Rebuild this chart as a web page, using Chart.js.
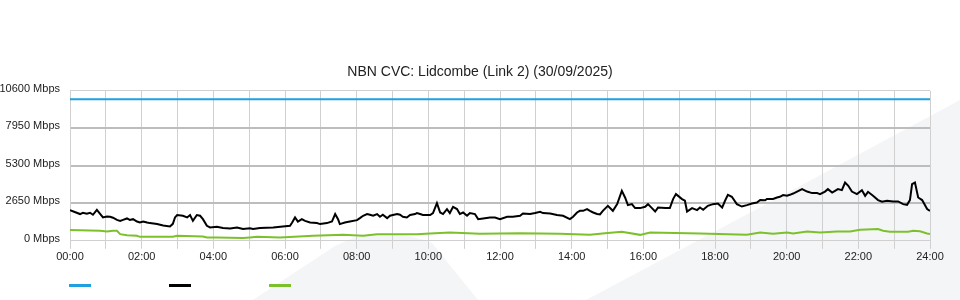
<!DOCTYPE html>
<html>
<head>
<meta charset="utf-8">
<script src="https://cdn.jsdelivr.net/npm/chart.js@4.4.1/dist/chart.umd.min.js"></script>
<style>
  html, body { margin: 0; padding: 0; background: #ffffff; }
  #wrap { position: relative; width: 960px; height: 300px; overflow: hidden; background: #ffffff; }
  #bg { position: absolute; left: 0; top: 0; }
  #c { position: absolute; left: 0; top: 0; }
  .sw { position: absolute; top: 284px; width: 22px; height: 3px; }
</style>
</head>
<body>
<div id="wrap">
  <svg id="bg" width="960" height="300" viewBox="0 0 960 300">
    <path d="M 253 300 L 335 246 Q 378 222 432 243 L 478 300 Z" fill="#f4f5f7"/>
    <path d="M 586 300 L 680 250 L 800 186 L 960 100 L 960 300 Z" fill="#f4f5f7"/>
  </svg>
  <canvas id="c" width="960" height="300"></canvas>
  <div id="legend"></div>
</div>
<script>
const chartTitle = 'NBN CVC: Lidcombe (Link 2) (30/09/2025)';
const xTickLabels = ['00:00','02:00','04:00','06:00','08:00','10:00','12:00','14:00','16:00','18:00','20:00','22:00','24:00'];
const yTickValues = [0, 2650, 5300, 7950, 10600];
const yUnit = ' Mbps';

const capacityTimes = [0, 24];
const capacityValues = [10000, 10000];

const blackTimes = [0,0.28,0.36,0.47,0.56,0.64,0.75,0.84,0.92,1.03,1.12,1.20,1.31,1.40,1.48,1.59,1.67,1.76,1.87,1.95,2.04,2.15,2.23,2.43,2.60,2.79,2.87,2.93,2.99,3.15,3.27,3.35,3.43,3.54,3.63,3.71,3.82,3.91,4.10,4.27,4.47,4.66,4.83,5.02,5.11,5.30,5.67,5.94,6.14,6.20,6.28,6.36,6.47,6.56,6.70,6.89,6.98,7.17,7.31,7.40,7.48,7.53,7.67,7.81,8.01,8.09,8.18,8.29,8.37,8.46,8.57,8.65,8.73,8.85,8.93,9.01,9.13,9.21,9.29,9.40,9.49,9.63,9.68,9.77,9.85,10.05,10.13,10.24,10.33,10.41,10.52,10.60,10.69,10.80,10.88,10.97,11.08,11.16,11.30,11.39,11.53,11.72,11.86,12.00,12.20,12.36,12.56,12.64,12.84,12.98,13.12,13.20,13.40,13.59,13.76,13.95,14.04,14.15,14.23,14.32,14.43,14.51,14.60,14.71,14.79,14.87,15.01,15.15,15.27,15.40,15.49,15.57,15.68,15.77,15.91,16.05,16.13,16.24,16.33,16.41,16.61,16.74,16.83,16.91,17.08,17.16,17.22,17.36,17.50,17.58,17.67,17.80,17.94,18.08,18.20,18.28,18.36,18.47,18.61,18.75,18.89,19.03,19.17,19.26,19.40,19.45,19.62,19.73,19.81,19.90,20.01,20.09,20.18,20.29,20.43,20.57,20.71,20.85,20.93,21.07,21.15,21.27,21.35,21.43,21.54,21.63,21.72,21.82,21.96,22.10,22.19,22.27,22.41,22.55,22.66,22.80,22.97,23.11,23.25,23.36,23.44,23.50,23.58,23.67,23.78,23.92,24.00];
const blackValues = [2170,1890,1980,1910,1980,1840,2190,1910,1650,1720,1700,1630,1480,1410,1480,1580,1480,1530,1360,1290,1360,1290,1250,1180,1080,1010,1200,1650,1820,1770,1650,1820,1410,1820,1770,1530,1060,940,990,900,870,940,830,880,830,900,940,1010,1060,1290,1650,1360,1530,1410,1290,1250,1180,1250,1360,1890,1530,1180,1290,1360,1460,1600,1770,1890,1840,1770,1890,1700,1840,1600,1770,1820,1890,1840,1700,1650,1820,1890,1960,1890,1820,1820,1960,2660,2000,1890,2240,1960,2400,2240,1890,2000,1770,1960,1890,1530,1580,1650,1650,1530,1700,1700,1770,1930,1890,1960,2050,1960,1930,1820,1770,1530,1700,2000,2120,2120,2240,2120,2000,1890,1870,2120,2470,2120,2590,3530,3060,2520,2590,2310,2310,2400,2590,2310,2070,2350,2310,2310,2950,3300,2950,2830,2070,2310,2170,2350,2190,2470,2590,2640,2350,2830,3250,3110,2590,2420,2520,2640,2710,2880,2860,2950,2950,3060,3110,3230,3180,3250,3340,3480,3650,3480,3370,3370,3300,3480,3650,3410,3530,3650,3580,4120,3890,3480,3300,3580,3180,3460,3180,2880,2760,2830,2780,2780,2590,2540,2880,4010,4120,3060,2880,2240,2120];

const greenTimes = [0,0.84,1.03,1.20,1.31,1.40,1.59,1.87,1.95,2.87,2.99,3.71,3.82,4.10,4.83,5.02,5.22,5.86,6.78,7.62,8.18,8.57,9.68,10.05,10.60,11.44,12.56,13.67,14.51,14.93,15.40,15.91,16.19,17.58,18.89,19.26,19.62,20.01,20.18,20.57,20.93,21.40,21.77,22.05,22.55,22.69,22.88,23.39,23.53,23.72,23.92,24.00];
const greenValues = [760,710,660,710,710,470,400,350,280,280,350,300,230,230,190,230,280,230,350,420,350,470,470,520,590,500,540,500,420,540,640,420,590,520,420,590,500,590,520,660,590,660,660,780,830,710,640,640,710,670,520,470];

const toPoints = (ts, vs) => ts.map((t, i) => ({ x: t, y: vs[i] }));
const FONT = 'Liberation Sans, Arial, Helvetica, sans-serif';
const TEXT = '#222222';

const datasets = [
  { label: '', data: toPoints(capacityTimes, capacityValues), borderColor: '#1ea0e1', backgroundColor: '#1ea0e1', borderWidth: 2 },
  { label: '', data: toPoints(blackTimes, blackValues), borderColor: '#000000', backgroundColor: '#000000', borderWidth: 2 },
  { label: '', data: toPoints(greenTimes, greenValues), borderColor: '#7cc12c', backgroundColor: '#7cc12c', borderWidth: 2 }
];

// center the title on the whole canvas (reference title is centred on the page)
const centerTitle = {
  id: 'centerTitle',
  afterLayout(chart) {
    if (chart.titleBlock) { chart.titleBlock.left = 0; chart.titleBlock.right = chart.width; chart.titleBlock.width = chart.width; }
  }
};

const chart = new Chart(document.getElementById('c'), {
  type: 'line',
  data: { datasets },
  plugins: [centerTitle],
  options: {
    responsive: false,
    animation: false,
    elements: { point: { radius: 0 }, line: { tension: 0 } },
    layout: { padding: { left: 0, right: 30, top: 0, bottom: 34 } },
    plugins: {
      legend: { display: false },
      tooltip: { enabled: false },
      title: {
        display: true, text: chartTitle, color: TEXT,
        font: { family: FONT, size: 14, weight: 'normal' },
        padding: { top: 64, bottom: 10 }
      }
    },
    scales: {
      x: {
        type: 'linear', min: 0, max: 24,
        afterBuildTicks: (axis) => { axis.ticks = Array.from({ length: 25 }, (_, h) => ({ value: h })); },
        ticks: {
          autoSkip: false, maxRotation: 0, padding: 2, color: TEXT,
          font: { family: FONT, size: 11 },
          callback: (v) => (v % 2 === 0 ? xTickLabels[v / 2] : '')
        },
        grid: { color: '#d0d0d0', lineWidth: 1, drawTicks: true, tickLength: 8, tickColor: '#d0d0d0' },
        border: { display: true, color: '#d0d0d0', width: 1 }
      },
      y: {
        min: 0, max: 10600,
        afterBuildTicks: (axis) => { axis.ticks = yTickValues.map(v => ({ value: v })); },
        afterFit: (axis) => { axis.width = 70; },
        ticks: {
          padding: 10, labelOffset: -2, color: TEXT, font: { family: FONT, size: 11 },
          callback: (v) => v + yUnit
        },
        grid: {
          drawTicks: false,
          color: (ctx) => (ctx.tick && (ctx.tick.value === 0 || ctx.tick.value === 10600)) ? '#d0d0d0' : '#bdbdbd',
          lineWidth: (ctx) => (ctx.tick && (ctx.tick.value === 0 || ctx.tick.value === 10600)) ? 1 : 2
        },
        border: { display: true, color: '#d0d0d0', width: 1 }
      }
    }
  }
});

// legend swatches (no text in reference)
const leg = document.getElementById('legend');
chart.data.datasets.forEach((ds, i) => {
  const d = document.createElement('div');
  d.className = 'sw';
  d.style.left = (69 + i * 100) + 'px';
  d.style.background = ds.borderColor;
  leg.appendChild(d);
});
</script>
</body>
</html>
